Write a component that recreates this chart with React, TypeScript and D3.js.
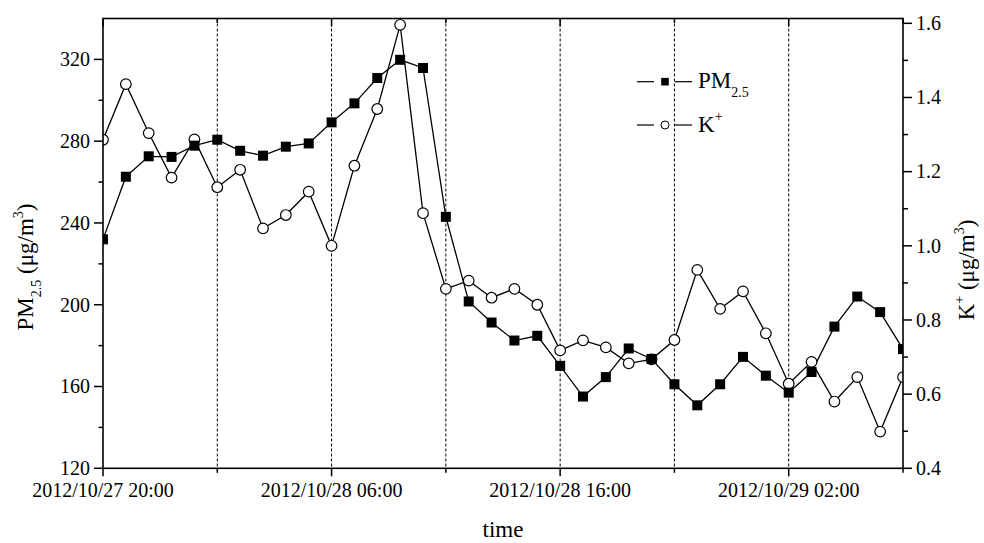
import React, { useEffect, useRef } from "react";
import * as d3 from "d3";

const startTime = new Date(2012, 9, 27, 20, 0);
const endTime = new Date(2012, 9, 29, 7, 0);
const tickStepHours = 5;
const pm25: number[] = [232, 262.6, 272.6, 272.3, 277.8, 280.7, 275.3, 272.9, 277.3, 278.9, 289.2, 298.5, 310.9, 319.8, 315.8, 243, 201.6, 191.3, 182.5, 184.8, 170.1, 155.1, 164.6, 178.6, 173.5, 161.1, 150.8, 161.1, 174.5, 165.3, 157, 167.1, 189.3, 204, 196.4, 178.3];
const kPlus: number[] = [1.286, 1.436, 1.304, 1.184, 1.287, 1.158, 1.205, 1.047, 1.083, 1.146, 1.0, 1.216, 1.369, 1.596, 1.088, 0.884, 0.906, 0.86, 0.884, 0.841, 0.718, 0.745, 0.726, 0.683, 0.694, 0.746, 0.935, 0.83, 0.877, 0.764, 0.628, 0.687, 0.58, 0.646, 0.499, 0.646];
const leftTicks: number[] = [120, 160, 200, 240, 280, 320];
const leftMinor: number[] = [140, 180, 220, 260, 300];
const rightTicks: number[] = [0.4, 0.6, 0.8, 1.0, 1.2, 1.4, 1.6];
const rightMinor: number[] = [0.5, 0.7, 0.9, 1.1, 1.3, 1.5];

const W = 984, H = 543;
const M = { left: 103, right: 903, top: 18.5, bottom: 468.3 };
const FONT = "'Liberation Serif', 'Times New Roman', serif";

export default function App() {
  const ref = useRef<SVGSVGElement>(null);
  useEffect(() => {
    document.body.style.margin = "0";
    const svg = d3.select(ref.current);
    svg.selectAll("*").remove();
    const times = pm25.map((_, i) => d3.timeHour.offset(startTime, i));
    const x = d3.scaleTime().domain([startTime, endTime]).range([M.left, M.right]);
    const yL = d3.scaleLinear().domain([120, 340]).range([M.bottom, M.top]);
    const yR = d3.scaleLinear().domain([0.4, 1.613]).range([M.bottom, M.top]);
    const totalHours = Math.round((endTime.getTime() - startTime.getTime()) / 3600000);
    const hourTicks = d3.range(0, totalHours + 1, tickStepHours).map((h) => d3.timeHour.offset(startTime, h));
    const fmt = d3.timeFormat("%Y/%m/%d %H:%M");
    const isMajor = (d: Date) => Math.round((d.getTime() - startTime.getTime()) / 3600000) % 10 === 0;

    svg.append("defs").append("clipPath").attr("id", "plotclip")
      .append("rect").attr("x", M.left).attr("y", M.top)
      .attr("width", M.right - M.left).attr("height", M.bottom - M.top);

    svg.append("g").selectAll("line")
      .data(hourTicks.filter((d) => +d !== +startTime && +d !== +endTime))
      .join("line")
      .attr("x1", (d) => x(d)).attr("x2", (d) => x(d))
      .attr("y1", M.top).attr("y2", M.bottom)
      .attr("stroke", "#000").attr("stroke-width", 1).attr("stroke-dasharray", "3,2");

    const plot = svg.append("g").attr("clip-path", "url(#plotclip)");
    const kLine = d3.line<number>().x((_, i) => x(times[i])).y((d) => yR(d));
    plot.append("path").attr("d", kLine(kPlus)).attr("fill", "none").attr("stroke", "#000").attr("stroke-width", 1.3);
    const pmLine = d3.line<number>().x((_, i) => x(times[i])).y((d) => yL(d));
    plot.append("path").attr("d", pmLine(pm25)).attr("fill", "none").attr("stroke", "#000").attr("stroke-width", 1.3);
    plot.append("g").selectAll("circle").data(kPlus).join("circle")
      .attr("cx", (_, i) => x(times[i])).attr("cy", (d) => yR(d)).attr("r", 5.3)
      .attr("fill", "#fff").attr("stroke", "#000").attr("stroke-width", 1.2);
    const s = 10;
    plot.append("g").selectAll("rect").data(pm25).join("rect")
      .attr("x", (_, i) => x(times[i]) - s / 2).attr("y", (d) => yL(d) - s / 2)
      .attr("width", s).attr("height", s).attr("fill", "#000");

    svg.append("rect").attr("x", M.left).attr("y", M.top)
      .attr("width", M.right - M.left).attr("height", M.bottom - M.top)
      .attr("fill", "none").attr("stroke", "#000").attr("stroke-width", 1.6);

    const axes = svg.append("g").attr("stroke", "#000").attr("stroke-width", 1.5);
    hourTicks.forEach((d) => {
      const len = isMajor(d) ? 8 : 4.5;
      axes.append("line").attr("x1", x(d)).attr("x2", x(d)).attr("y1", M.bottom).attr("y2", M.bottom + len);
      axes.append("line").attr("x1", x(d)).attr("x2", x(d)).attr("y1", M.top).attr("y2", M.top + len);
    });
    leftTicks.forEach((v) => axes.append("line").attr("x1", M.left - 9).attr("x2", M.left).attr("y1", yL(v)).attr("y2", yL(v)));
    leftMinor.forEach((v) => axes.append("line").attr("x1", M.left - 4.5).attr("x2", M.left).attr("y1", yL(v)).attr("y2", yL(v)));
    rightTicks.forEach((v) => axes.append("line").attr("x1", M.right).attr("x2", M.right + 9).attr("y1", yR(v)).attr("y2", yR(v)));
    rightMinor.forEach((v) => axes.append("line").attr("x1", M.right).attr("x2", M.right + 5).attr("y1", yR(v)).attr("y2", yR(v)));

    const txt = svg.append("g").attr("font-family", FONT).attr("fill", "#000");
    hourTicks.filter(isMajor).forEach((d) => {
      txt.append("text").attr("x", x(d)).attr("y", 497).attr("text-anchor", "middle")
        .attr("font-size", 20).text(fmt(d));
    });
    leftTicks.forEach((v) => txt.append("text").attr("x", 90).attr("y", yL(v)).attr("dy", "0.34em")
      .attr("text-anchor", "end").attr("font-size", 20).text(d3.format("d")(v)));
    rightTicks.forEach((v) => txt.append("text").attr("x", 916).attr("y", yR(v)).attr("dy", "0.34em")
      .attr("text-anchor", "start").attr("font-size", 20).text(d3.format(".1f")(v)));

    txt.append("text").attr("x", (M.left + M.right) / 2).attr("y", 537).attr("text-anchor", "middle")
      .attr("font-size", 23).text("time");

    const lt = txt.append("text").attr("transform", "translate(33,267) rotate(-90)")
      .attr("text-anchor", "middle").attr("font-size", 23);
    lt.append("tspan").text("PM");
    lt.append("tspan").attr("font-size", 14).attr("dy", 8).text("2.5");
    lt.append("tspan").attr("dy", -8).text(" (μg/m");
    lt.append("tspan").attr("font-size", 14).attr("dy", -10).text("3");
    lt.append("tspan").attr("dy", 10).text(")");

    const rt = txt.append("text").attr("transform", "translate(974,270) rotate(-90)")
      .attr("text-anchor", "middle").attr("font-size", 23);
    rt.append("tspan").text("K");
    rt.append("tspan").attr("font-size", 14).attr("dy", -10).text("+");
    rt.append("tspan").attr("dy", 10).text(" (μg/m");
    rt.append("tspan").attr("font-size", 14).attr("dy", -10).text("3");
    rt.append("tspan").attr("dy", 10).text(")");

    const lg = svg.append("g");
    const rows = [{ y: 81.7, kind: "sq" }, { y: 125, kind: "ci" }];
    rows.forEach((r) => {
      lg.append("line").attr("x1", 637).attr("x2", 654).attr("y1", r.y).attr("y2", r.y).attr("stroke", "#000").attr("stroke-width", 1.2);
      lg.append("line").attr("x1", 675).attr("x2", 692).attr("y1", r.y).attr("y2", r.y).attr("stroke", "#000").attr("stroke-width", 1.2);
      if (r.kind === "sq") {
        lg.append("rect").attr("x", 665 - 3.8).attr("y", r.y - 3.8).attr("width", 7.6).attr("height", 7.6).attr("fill", "#000");
      } else {
        lg.append("circle").attr("cx", 665).attr("cy", r.y).attr("r", 4).attr("fill", "#fff").attr("stroke", "#000").attr("stroke-width", 1);
      }
    });
    const l1 = txt.append("text").attr("x", 698).attr("y", 88.3).attr("font-size", 23);
    l1.append("tspan").text("PM");
    l1.append("tspan").attr("font-size", 14).attr("dy", 9).text("2.5");
    const l2 = txt.append("text").attr("x", 698).attr("y", 131.6).attr("font-size", 23);
    l2.append("tspan").text("K");
    l2.append("tspan").attr("font-size", 14).attr("dy", -11).text("+");
  }, []);
  return (
    <svg ref={ref} width={W} height={H} style={{ display: "block", background: "#fff" }} />
  );
}
